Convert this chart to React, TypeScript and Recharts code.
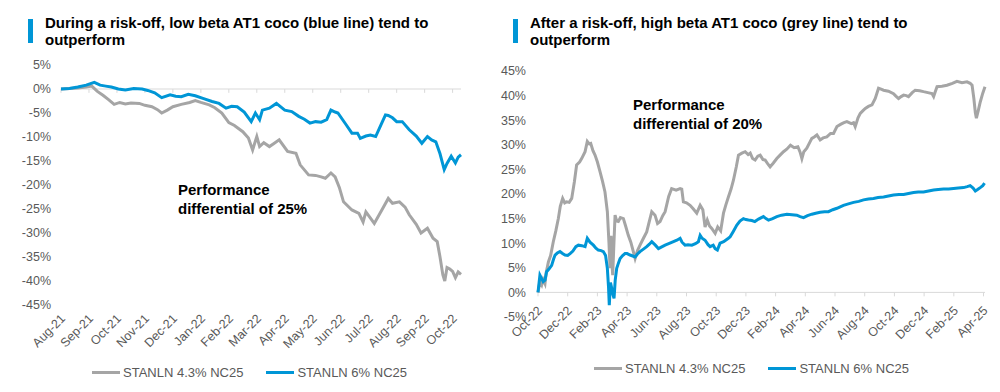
import React from 'react';
import { LineChart, Line, XAxis, YAxis, ReferenceLine, Legend } from 'recharts';

const FONT = '"Liberation Sans", Arial, sans-serif';
const GREY = '#A5A5A5';
const BLUE = '#0096D6';
const AXIS_TEXT = '#595959';
const ZERO_LINE = '#D9D9D9';

// x = months since the first label, y = performance in %
const leftMonthLabels = [
  'Aug-21', 'Sep-21', 'Oct-21', 'Nov-21', 'Dec-21', 'Jan-22', 'Feb-22', 'Mar-22',
  'Apr-22', 'May-22', 'Jun-22', 'Jul-22', 'Aug-22', 'Sep-22', 'Oct-22',
];
const rightMonthLabels = [
  'Oct-22', 'Dec-22', 'Feb-23', 'Apr-23', 'Jun-23', 'Aug-23', 'Oct-23', 'Dec-23',
  'Feb-24', 'Apr-24', 'Jun-24', 'Aug-24', 'Oct-24', 'Dec-24', 'Feb-25', 'Apr-25',
];
const leftYTicks = [5, 0, -5, -10, -15, -20, -25, -30, -35, -40, -45];
const rightYTicks = [45, 40, 35, 30, 25, 20, 15, 10, 5, 0, -5];

const leftGrey: [number, number][] = [
  [0, 0], [0.3, 0.1], [0.6, 0.2], [0.9, 0.4], [1.1, 0.6], [1.3, -0.5], [1.5, -1.3], [1.7, -2.2],
  [1.9, -3.2], [2.1, -2.8], [2.3, -3.1], [2.5, -2.9], [2.8, -3.0], [3.0, -3.4], [3.25, -3.7],
  [3.45, -4.3], [3.6, -5.0], [3.8, -4.4], [4.0, -3.7], [4.3, -3.2], [4.6, -2.8], [4.8, -2.4],
  [5.0, -2.8], [5.3, -3.3], [5.5, -3.9], [5.75, -5.0], [6.0, -7.0], [6.2, -7.6], [6.5, -8.9],
  [6.7, -10.2], [6.85, -12.7], [7.0, -9.9], [7.1, -12.0], [7.25, -11.2], [7.45, -12.0],
  [7.6, -11.4], [7.8, -10.6], [8.1, -13.0], [8.4, -13.4], [8.55, -15.8], [8.85, -17.9],
  [9.1, -18.0], [9.3, -18.3], [9.45, -18.6], [9.65, -17.5], [9.8, -18.3], [9.95, -20.5],
  [10.1, -23.5], [10.4, -25.2], [10.65, -25.9], [10.8, -27.7], [10.9, -25.6], [11.05, -26.8],
  [11.2, -28.0], [11.5, -24.9], [11.7, -22.8], [11.85, -23.8], [12.1, -23.5], [12.3, -24.6],
  [12.45, -26.2], [12.7, -28.2], [12.87, -30.0], [13.1, -29.0], [13.3, -31.1], [13.45, -31.8],
  [13.55, -35.0], [13.65, -38.7], [13.72, -40.0], [13.8, -37.2], [13.9, -37.5], [14.0, -38.0],
  [14.1, -39.3], [14.2, -38.1], [14.3, -38.6],
];
const leftBlue: [number, number][] = [
  [0, 0], [0.3, 0.1], [0.6, 0.4], [0.9, 0.8], [1.19, 1.4], [1.4, 0.8], [1.6, 0.6], [1.8, 0.4],
  [2.05, 0], [2.3, -0.2], [2.6, 0.1], [2.9, 0], [3.1, -0.3], [3.35, -0.8], [3.6, -1.8],
  [3.9, -1.2], [4.1, -1.5], [4.3, -1.6], [4.55, -1.1], [4.8, -1.4], [5.1, -2.0], [5.4, -2.6],
  [5.65, -3.0], [5.9, -4.0], [6.1, -3.6], [6.3, -3.7], [6.55, -4.8], [6.8, -6.8], [6.95, -5.0],
  [7.1, -6.4], [7.2, -4.4], [7.45, -4.0], [7.7, -3.0], [8.0, -4.4], [8.25, -4.7], [8.5, -5.7],
  [8.7, -6.3], [8.9, -7.1], [9.1, -6.8], [9.3, -6.9], [9.5, -6.4], [9.65, -4.4], [9.8, -4.8],
  [9.9, -5.0], [10.2, -7.5], [10.4, -9.2], [10.6, -9.2], [10.7, -10.3], [10.9, -9.8],
  [11.06, -9.6], [11.25, -9.9], [11.45, -7.3], [11.6, -5.4], [11.7, -5.5], [11.85, -6.0],
  [12.0, -6.8], [12.2, -6.8], [12.45, -8.5], [12.7, -9.8], [12.9, -11.3], [13.1, -9.9],
  [13.25, -10.6], [13.4, -11.0], [13.55, -13.5], [13.7, -16.8], [13.8, -15.5], [13.95, -14.0],
  [14.1, -15.4], [14.2, -14.2], [14.3, -13.7],
];

const rightGrey: [number, number][] = [
  [0, 0], [0.13, 2.2], [0.25, 1.5], [0.35, 2.6], [0.47, 1.8], [0.55, 4.0], [0.7, 6.2],
  [0.85, 7.5], [1.03, 10.3], [1.2, 12.5], [1.37, 15.0], [1.5, 17.5], [1.66, 19.1], [1.8, 18.2],
  [1.93, 18.4], [2.1, 18.3], [2.27, 19.1], [2.45, 22.5], [2.6, 25.9], [2.8, 26.5], [2.94, 27.2],
  [3.17, 28.6], [3.32, 30.7], [3.45, 30.2], [3.55, 30.3], [3.7, 28.8], [3.84, 27.9], [4.0, 26.5],
  [4.18, 24.5], [4.35, 22.5], [4.51, 20.4], [4.67, 16.4], [4.78, 10.0], [4.85, 4.9], [4.92, 11.5],
  [4.97, 6.5], [5.03, 3.5], [5.1, 9.0], [5.19, 15.7], [5.3, 14.5], [5.41, 14.4], [5.55, 15.2],
  [5.75, 15.0], [5.9, 13.5], [6.08, 11.6], [6.25, 10.2], [6.42, 8.3], [6.54, 6.9], [6.7, 8.5],
  [6.87, 9.6], [7.1, 11.0], [7.32, 12.3], [7.5, 14.5], [7.66, 16.4], [7.88, 15.7], [8.05, 14.0],
  [8.22, 14.4], [8.4, 15.6], [8.56, 16.4], [8.8, 19.5], [9.0, 21.1], [9.3, 20.8], [9.57, 21.1],
  [9.68, 21.0], [9.79, 18.4], [10.0, 18.2], [10.24, 17.7], [10.45, 17.0], [10.69, 16.1],
  [10.92, 17.7], [11.1, 16.8], [11.25, 13.3], [11.4, 14.7], [11.55, 13.5], [11.7, 13.0],
  [11.93, 12.0], [12.1, 13.3], [12.3, 12.5], [12.49, 16.1], [12.65, 17.8], [12.82, 19.4],
  [13.0, 21.0], [13.16, 22.8], [13.35, 25.5], [13.5, 27.9], [13.73, 28.3], [13.95, 28.6],
  [14.15, 28.0], [14.29, 28.3], [14.45, 27.2], [14.62, 26.9], [14.8, 27.7], [14.96, 27.9],
  [15.15, 27.0], [15.3, 26.9], [15.5, 26.0], [15.63, 25.5], [15.85, 26.3], [16.08, 27.2],
  [16.3, 27.9], [16.53, 28.6], [16.75, 29.1], [17.0, 29.9], [17.25, 29.4], [17.5, 29.6],
  [17.65, 28.5], [17.77, 27.2], [17.9, 28.6], [18.1, 29.3], [18.3, 30.5], [18.44, 31.3],
  [18.6, 31.6], [18.78, 32.0], [19.0, 31.0], [19.2, 31.4], [19.45, 31.6], [19.7, 32.3],
  [19.9, 32.3], [20.13, 33.7], [20.4, 34.2], [20.6, 34.5], [20.8, 34.7], [21.1, 34.3],
  [21.25, 34.5], [21.36, 33.7], [21.55, 35.5], [21.7, 36.4], [21.9, 37.0], [22.04, 37.4],
  [22.25, 37.8], [22.49, 38.1], [22.71, 39.4], [22.93, 41.5], [23.1, 41.3], [23.27, 41.1],
  [23.6, 40.9], [23.94, 40.4], [24.1, 39.9], [24.28, 39.4], [24.45, 39.8], [24.62, 40.1],
  [24.8, 40.0], [24.95, 39.8], [25.2, 40.6], [25.4, 41.1], [25.7, 41.0], [25.96, 40.8],
  [26.25, 40.6], [26.53, 40.4], [26.64, 39.8], [26.75, 40.8], [26.87, 41.8], [27.2, 41.9],
  [27.54, 42.1], [27.9, 42.5], [28.21, 42.9], [28.55, 42.6], [28.89, 42.8], [29.1, 42.5],
  [29.23, 42.1], [29.35, 39.4], [29.45, 36.5], [29.52, 35.4], [29.65, 37.0], [29.78, 38.7],
  [29.95, 40.5], [30.1, 41.8],
];
const rightBlue: [number, number][] = [
  [0, 0], [0.13, 3.5], [0.25, 2.8], [0.35, 2.2], [0.47, 2.5], [0.58, 4.2], [0.75, 4.8],
  [0.92, 5.5], [1.05, 6.8], [1.15, 7.6], [1.3, 8.0], [1.48, 8.3], [1.65, 7.9], [1.82, 7.6],
  [2.0, 7.5], [2.16, 7.9], [2.35, 8.4], [2.55, 9.3], [2.72, 9.6], [2.95, 9.5], [3.17, 9.3],
  [3.32, 11.0], [3.5, 10.2], [3.73, 9.6], [3.9, 9.0], [4.06, 8.6], [4.25, 8.5], [4.4, 8.3],
  [4.55, 7.5], [4.67, 4.9], [4.75, 1.0], [4.8, -2.6], [4.88, 2.0], [4.97, 0.8], [5.05, -0.5],
  [5.12, -1.2], [5.2, 2.5], [5.3, 4.9], [5.42, 6.0], [5.53, 6.9], [5.7, 7.5], [5.86, 7.9],
  [6.0, 7.9], [6.2, 7.6], [6.38, 7.4], [6.54, 7.2], [6.7, 7.8], [6.87, 8.3], [7.1, 8.8],
  [7.32, 9.3], [7.5, 9.8], [7.66, 10.3], [7.9, 9.6], [8.11, 8.9], [8.3, 9.2], [8.56, 9.6],
  [8.8, 9.9], [9.12, 10.3], [9.35, 10.6], [9.57, 11.0], [9.7, 10.2], [9.9, 9.6], [10.1, 9.7],
  [10.36, 9.6], [10.6, 9.9], [10.8, 10.3], [10.92, 11.6], [11.05, 11.0], [11.25, 10.6],
  [11.45, 9.7], [11.59, 9.3], [11.8, 9.6], [11.93, 8.9], [12.08, 8.6], [12.26, 10.0],
  [12.5, 10.3], [12.82, 11.0], [12.94, 11.3], [13.15, 12.4], [13.39, 13.7], [13.6, 14.5],
  [13.83, 15.0], [14.0, 14.8], [14.17, 14.7], [14.4, 14.6], [14.6, 14.4], [14.85, 14.9],
  [15.18, 15.4], [15.35, 15.0], [15.52, 14.7], [15.8, 15.0], [16.08, 15.4], [16.4, 15.7],
  [16.76, 15.9], [17.1, 15.8], [17.43, 15.7], [17.65, 15.4], [17.88, 15.2], [18.15, 15.6],
  [18.44, 15.9], [18.7, 16.1], [19.0, 16.3], [19.3, 16.4], [19.56, 16.4], [19.85, 16.8],
  [20.13, 17.1], [20.35, 17.4], [20.57, 17.7], [20.9, 18.0], [21.25, 18.3], [21.6, 18.5],
  [21.92, 18.8], [22.25, 19.0], [22.59, 19.1], [22.9, 19.3], [23.27, 19.4], [23.6, 19.6],
  [23.94, 19.8], [24.3, 19.9], [24.62, 19.9], [24.95, 20.1], [25.29, 20.3], [25.6, 20.4],
  [25.96, 20.4], [26.3, 20.6], [26.64, 20.8], [26.95, 20.9], [27.31, 21.0], [27.65, 21.0],
  [27.98, 21.1], [28.3, 21.2], [28.66, 21.3], [28.9, 21.5], [29.1, 21.7], [29.3, 21.2],
  [29.45, 20.6], [29.6, 20.9], [29.78, 21.3], [29.95, 21.7], [30.07, 22.2],
];

const toRows = (pts: [number, number][]) => pts.map(([m, v]) => ({ m, v }));

const renderLegend = (props: any) => {
  const items = props.payload || [];
  return (
    <div style={{ display: 'flex', alignItems: 'center', gap: 23, fontFamily: FONT, fontSize: 13, lineHeight: '15px', color: AXIS_TEXT, whiteSpace: 'nowrap' }}>
      {items.map((entry: any) => (
        <div key={entry.value} style={{ display: 'flex', alignItems: 'center' }}>
          <span style={{ width: 28, height: 3, background: entry.color, marginRight: 3 }} />
          <span>{entry.value}</span>
        </div>
      ))}
    </div>
  );
};

const makeXTick = (labels: string[], step: number, dy: number) => (props: any) => {
  const { x, y, payload } = props;
  const label = labels[Math.round(payload.value / step)];
  const ax = x + 5;
  const ay = y + dy;
  return (
    <text x={ax} y={ay} textAnchor="end" fontSize={12.5} fontFamily={FONT} fill={AXIS_TEXT} transform={`rotate(-45, ${ax}, ${ay})`}>
      {label}
    </text>
  );
};

const Title = ({ left, lines }: { left: number; lines: string[] }) => (
  <>
    <div style={{ position: 'absolute', left, top: 19, width: 5, height: 24, background: BLUE }} />
    <div style={{ position: 'absolute', left: left + 17, top: 14, fontFamily: FONT, fontWeight: 'bold', fontSize: 15, lineHeight: '17px', color: '#000', whiteSpace: 'nowrap' }}>
      {lines[0]}<br />{lines[1]}
    </div>
  </>
);

const Note = ({ left, top, pct }: { left: number; top: number; pct: string }) => (
  <div style={{ position: 'absolute', left, top, fontFamily: FONT, fontWeight: 'bold', fontSize: 15, lineHeight: '19px', color: '#000', whiteSpace: 'nowrap' }}>
    Performance<br />differential of {pct}
  </div>
);

const tickStyle = { fontSize: 12.5, fontFamily: FONT, fill: AXIS_TEXT };

export default function App() {
  const leftTicks = leftMonthLabels.map((_, i) => i);
  const rightTicks = rightMonthLabels.map((_, i) => i * 2);
  return (
    <div style={{ position: 'absolute', left: 0, top: 0, width: 1000, height: 392, background: '#fff', overflow: 'hidden' }}>
      <div style={{ position: 'absolute', left: 0, top: 0 }}>
        <LineChart width={490} height={392} margin={{ top: 65, right: 29, bottom: 47, left: 0 }}>
          <XAxis
            dataKey="m"
            type="number"
            domain={[0, 14.3]}
            ticks={leftTicks}
            interval={0}
            axisLine={false}
            tickLine={false}
            height={40}
            tick={makeXTick(leftMonthLabels, 1, 6.4)}
          />
          <YAxis
            type="number"
            domain={[-45, 5]}
            ticks={leftYTicks}
            interval={0}
            axisLine={false}
            tickLine={false}
            width={61}
            tickMargin={4}
            tick={tickStyle}
            tickFormatter={(v) => `${v}%`}
          />
          <ReferenceLine y={0} stroke={ZERO_LINE} strokeWidth={1} />
          {leftTicks.map((m) => (
            <ReferenceLine key={m} segment={[{ x: m, y: 0 }, { x: m, y: -0.8 }]} stroke={ZERO_LINE} />
          ))}
          <Line data={toRows(leftGrey)} dataKey="v" name="STANLN 4.3% NC25" type="linear" stroke={GREY} strokeWidth={3} dot={false} isAnimationActive={false} />
          <Line data={toRows(leftBlue)} dataKey="v" name="STANLN 6% NC25" type="linear" stroke={BLUE} strokeWidth={3} dot={false} isAnimationActive={false} />
          <Legend layout="horizontal" verticalAlign="middle" align="center" content={renderLegend} wrapperStyle={{ left: 92, top: 365, width: 'auto' }} />
        </LineChart>
      </div>
      <div style={{ position: 'absolute', left: 490, top: 0 }}>
        <LineChart width={510} height={392} margin={{ top: 71, right: 15, bottom: 35, left: 0 }}>
          <XAxis
            dataKey="m"
            type="number"
            domain={[0, 30.1]}
            ticks={rightTicks}
            interval={0}
            axisLine={false}
            tickLine={false}
            height={40}
            tick={makeXTick(rightMonthLabels, 2, -13.6)}
          />
          <YAxis
            type="number"
            domain={[-5, 45]}
            ticks={rightYTicks}
            interval={0}
            axisLine={false}
            tickLine={false}
            width={48}
            tickMargin={6}
            tick={tickStyle}
            tickFormatter={(v) => `${v}%`}
          />
          <ReferenceLine y={0} stroke={ZERO_LINE} strokeWidth={1} />
          {rightTicks.map((m) => (
            <ReferenceLine key={m} segment={[{ x: m, y: 0 }, { x: m, y: -0.8 }]} stroke={ZERO_LINE} />
          ))}
          <Line data={toRows(rightGrey)} dataKey="v" name="STANLN 4.3% NC25" type="linear" stroke={GREY} strokeWidth={3} dot={false} isAnimationActive={false} />
          <Line data={toRows(rightBlue)} dataKey="v" name="STANLN 6% NC25" type="linear" stroke={BLUE} strokeWidth={3} dot={false} isAnimationActive={false} />
          <Legend layout="horizontal" verticalAlign="middle" align="center" content={renderLegend} wrapperStyle={{ left: 104, top: 361, width: 'auto' }} />
        </LineChart>
      </div>
      <Title left={28} lines={['During a risk-off, low beta AT1 coco (blue line) tend to', 'outperform']} />
      <Title left={513} lines={['After a risk-off, high beta AT1 coco (grey line) tend to', 'outperform']} />
      <Note left={178} top={180} pct="25%" />
      <Note left={633} top={95} pct="20%" />
    </div>
  );
}
